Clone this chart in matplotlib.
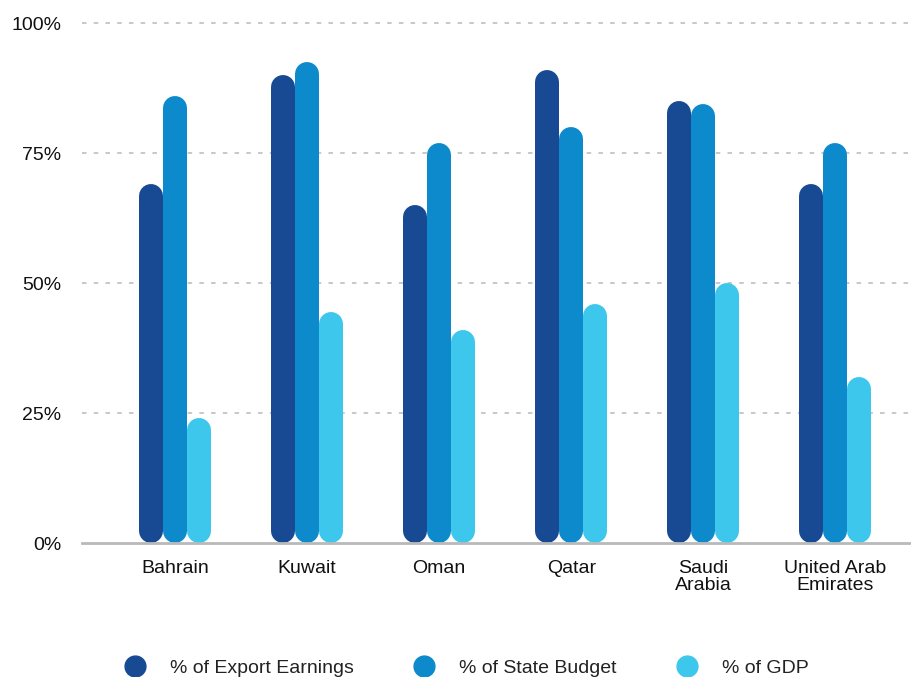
import numpy as np
import matplotlib
matplotlib.use("Agg")
from matplotlib import pyplot as plt
from matplotlib.lines import Line2D

plt.rcParams['font.family'] = ['Liberation Sans', 'DejaVu Sans']

countries = ['Bahrain', 'Kuwait', 'Oman', 'Qatar', 'Saudi\nArabia', 'United Arab\nEmirates']
export_earnings = [69, 90, 65, 91, 85, 69]
state_budget = [86, 92.5, 77, 80, 84.5, 77]
gdp = [24, 44.5, 41, 46, 50, 32]

series = [('% of Export Earnings', export_earnings, '#174a93'),
          ('% of State Budget', state_budget, '#0c8acb'),
          ('% of GDP', gdp, '#3ec7ec')]

W, H, DPI = 912, 677, 100
fig = plt.figure(figsize=(W / DPI, H / DPI), dpi=DPI)

# axes box in pixels: left 82, right 912, baseline at y=543, 100% at y=23
ytop = 101
px_per_unit = 520 / 100
ax_h = ytop * px_per_unit
ax = fig.add_axes([82 / W, (H - 543) / H, (912 - 82) / W, ax_h / H])
ax.set_ylim(0, ytop)
ax.set_xlim(-0.705, 5.58)

bar_px = 24
group_px = 132
lw_pt = bar_px * 72 / DPI
r = (bar_px / 2) / px_per_unit  # cap radius in data units
x = np.arange(len(countries))
offset = bar_px / group_px

for yv in [25, 50, 75, 100]:
    ax.axhline(yv, color='#c4c4c4', lw=1.3, linestyle=(0, (2.5, 4)), zorder=0, clip_on=False)
ax.axhline(0, color='#b9b9b9', lw=2, zorder=3, clip_on=False)

for i, (name, vals, col) in enumerate(series):
    xs = x + (i - 1) * offset
    ax.vlines(xs, r, np.array(vals) - r, colors=col, lw=lw_pt,
              capstyle='round', zorder=2, clip_on=False)

for s in ax.spines.values():
    s.set_visible(False)

ax.set_xticks(x)
ax.set_xticklabels(countries, fontsize=14, linespacing=1.05, color='#111111')
ax.set_yticks([0, 25, 50, 75, 100])
ax.set_yticklabels(['0%', '25%', '50%', '75%', '100%'], fontsize=14, color='#111111')
ax.tick_params(axis='both', length=0)
ax.tick_params(axis='x', pad=12)
ax.tick_params(axis='y', pad=15)

handles = [Line2D([], [], marker='o', linestyle='none', markersize=15,
                  markerfacecolor=c, markeredgecolor=c) for _, _, c in series]
fig.legend(handles, [n for n, _, _ in series], loc='center',
           bbox_to_anchor=(462 / W, 1 - 668 / H), ncol=3, frameon=False,
           fontsize=14, handletextpad=0.8, columnspacing=2.6,
           labelcolor='#222222')

fig.savefig('out.png', dpi=DPI)
